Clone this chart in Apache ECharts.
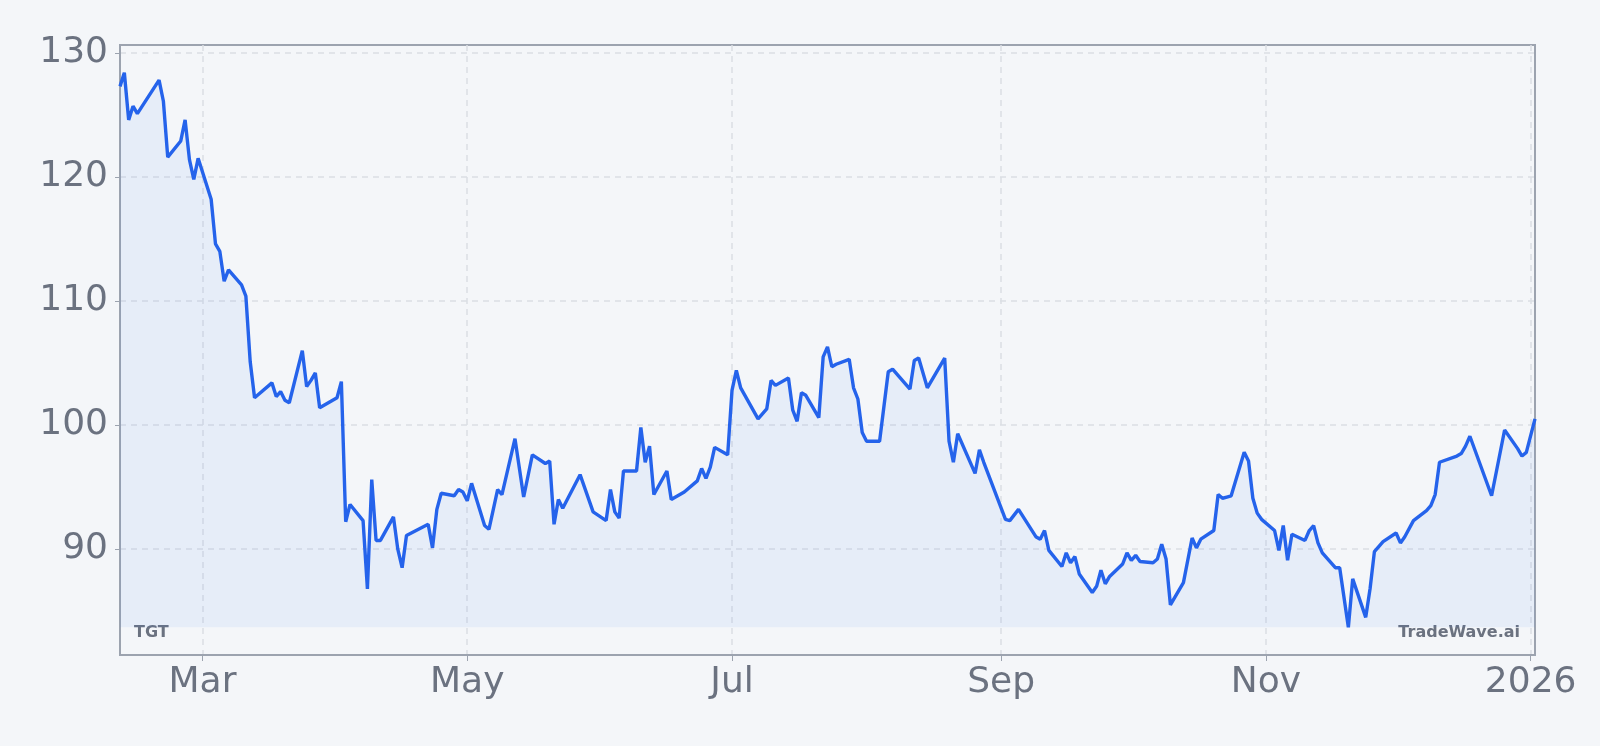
<!DOCTYPE html>
<html>
<head>
<meta charset="utf-8">
<script src="https://cdn.jsdelivr.net/npm/echarts@6/dist/echarts.min.js"></script>
<style>
html,body{margin:0;padding:0;background:#f4f6f9;}
#chart{width:1600px;height:746px;}
</style>
</head>
<body>
<div id="chart"></div>
<script>
const ticker = 'TGT';
const brand = 'TradeWave.ai';
const dates = [
'2025-02-10','2025-02-11','2025-02-12','2025-02-13','2025-02-14','2025-02-19','2025-02-20','2025-02-21','2025-02-24','2025-02-25','2025-02-26','2025-02-27','2025-02-28',
'2025-03-03','2025-03-04','2025-03-05','2025-03-06','2025-03-07','2025-03-10','2025-03-11','2025-03-12','2025-03-13','2025-03-17','2025-03-18','2025-03-19','2025-03-20','2025-03-21','2025-03-24','2025-03-25','2025-03-26','2025-03-27','2025-03-28','2025-03-31',
'2025-04-01','2025-04-02','2025-04-03','2025-04-04','2025-04-07','2025-04-08','2025-04-09','2025-04-10','2025-04-11','2025-04-14','2025-04-15','2025-04-16','2025-04-17','2025-04-22','2025-04-23','2025-04-24','2025-04-25','2025-04-28','2025-04-29','2025-04-30',
'2025-05-01','2025-05-02','2025-05-05','2025-05-06','2025-05-08','2025-05-09','2025-05-12','2025-05-14','2025-05-16','2025-05-19','2025-05-20','2025-05-21','2025-05-22','2025-05-23','2025-05-27','2025-05-30',
'2025-06-02','2025-06-03','2025-06-04','2025-06-05','2025-06-06','2025-06-09','2025-06-10','2025-06-11','2025-06-12','2025-06-13','2025-06-16','2025-06-17','2025-06-20','2025-06-23','2025-06-24','2025-06-25','2025-06-26','2025-06-27','2025-06-30',
'2025-07-01','2025-07-02','2025-07-03','2025-07-07','2025-07-09','2025-07-10','2025-07-11','2025-07-14','2025-07-15','2025-07-16','2025-07-17','2025-07-18','2025-07-21','2025-07-22','2025-07-23','2025-07-24','2025-07-25','2025-07-28','2025-07-29','2025-07-30','2025-07-31',
'2025-08-01','2025-08-04','2025-08-06','2025-08-07','2025-08-11','2025-08-12','2025-08-13','2025-08-15','2025-08-19','2025-08-20','2025-08-21','2025-08-22','2025-08-26','2025-08-27','2025-08-28',
'2025-09-02','2025-09-03','2025-09-05','2025-09-09','2025-09-10','2025-09-11','2025-09-12','2025-09-15','2025-09-16','2025-09-17','2025-09-18','2025-09-19','2025-09-22','2025-09-23','2025-09-24','2025-09-25','2025-09-26','2025-09-29','2025-09-30',
'2025-10-01','2025-10-02','2025-10-03','2025-10-06','2025-10-07','2025-10-08','2025-10-09','2025-10-10','2025-10-13','2025-10-15','2025-10-16','2025-10-17','2025-10-20','2025-10-21','2025-10-22','2025-10-23','2025-10-24','2025-10-27','2025-10-28','2025-10-29','2025-10-30','2025-10-31',
'2025-11-03','2025-11-04','2025-11-05','2025-11-06','2025-11-07','2025-11-10','2025-11-11','2025-11-12','2025-11-13','2025-11-14','2025-11-17','2025-11-18','2025-11-20','2025-11-21','2025-11-24','2025-11-25','2025-11-26','2025-11-28',
'2025-12-01','2025-12-02','2025-12-03','2025-12-05','2025-12-08','2025-12-09','2025-12-10','2025-12-11','2025-12-15','2025-12-16','2025-12-17','2025-12-18','2025-12-23','2025-12-26','2025-12-29','2025-12-30','2025-12-31',
'2026-01-02'
];
const prices = [
127.3,128.4,124.6,125.7,125.1,127.8,126.1,121.6,122.9,124.6,121.4,119.8,121.5,
118.2,114.6,114.0,111.6,112.5,111.3,110.4,105.1,102.2,103.4,102.3,102.7,102.0,101.8,106.0,103.1,103.6,104.2,101.4,102.0,
102.2,103.5,92.2,93.6,92.3,86.8,95.6,90.7,90.7,92.6,90.0,88.5,91.1,92.0,90.1,93.2,94.5,94.3,94.8,94.6,
93.9,95.3,91.9,91.6,94.8,94.4,98.9,94.2,97.6,96.9,97.1,92.0,94.0,93.3,96.0,93.0,
92.3,94.8,93.0,92.5,96.3,96.3,99.8,97.0,98.3,94.4,96.3,94.0,94.6,95.5,96.5,95.7,96.6,98.2,97.6,
102.8,104.4,103.0,100.5,101.3,103.6,103.2,103.8,101.2,100.3,102.6,102.4,100.6,105.5,106.3,104.7,104.9,105.3,103.0,102.1,99.4,
98.7,98.7,104.3,104.5,102.9,105.2,105.4,103.0,105.4,98.7,97.0,99.3,96.1,98.0,97.0,
92.4,92.3,93.2,91.0,90.8,91.5,89.9,88.6,89.7,88.9,89.4,88.0,86.5,87.0,88.3,87.2,87.8,88.8,89.7,
89.1,89.5,89.0,88.9,89.2,90.4,89.2,85.5,87.3,90.9,90.1,90.8,91.5,94.4,94.1,94.2,94.3,97.8,97.1,94.1,92.9,92.4,
91.5,89.9,91.9,89.1,91.2,90.7,91.5,91.9,90.5,89.7,88.5,88.5,83.7,87.6,84.5,86.8,89.8,90.6,
91.3,90.5,91.0,92.3,93.1,93.5,94.4,97.0,97.5,97.7,98.3,99.1,94.3,99.6,98.1,97.5,97.8,
100.5
];
const xTickDates = ['2025-03-01','2025-05-01','2025-07-01','2025-09-01','2025-11-01','2026-01-01'];
const yTicks = [90, 100, 110, 120, 130];
const monthNames = ['Jan','Feb','Mar','Apr','May','Jun','Jul','Aug','Sep','Oct','Nov','Dec'];

function toTs(s){ const p = s.split('-').map(Number); return Date.UTC(p[0], p[1]-1, p[2]); }
const xTicks = xTickDates.map(toTs);
const seriesData = dates.map((d,i)=>[toTs(d), prices[i]]);
const pMin = Math.min.apply(null, prices);
const pMax = Math.max.apply(null, prices);
const pad = (pMax - pMin) * 0.05;

const textColor = '#6b7280';
const axisColor = '#9ca3af';
const gridColor = '#dadee4';
const font = 'DejaVu Sans';

const chart = echarts.init(document.getElementById('chart'), null, {renderer:'canvas'});
chart.setOption({
  backgroundColor: '#f4f6f9',
  animation: false,
  textStyle: {fontFamily: font},
  grid: {left:120, right:65, top:45, bottom:91, show:true, borderColor:axisColor, borderWidth:2, backgroundColor:'transparent'},
  xAxis: {
    type:'value',
    min: seriesData[0][0],
    max: seriesData[seriesData.length-1][0],
    axisLine:{show:true, onZero:false, lineStyle:{color:axisColor, width:2}},
    axisTick:{show:true, length:6, lineStyle:{color:axisColor}, customValues: xTicks},
    splitLine:{show:true, lineStyle:{color:gridColor, type:[6,5], width:1.5}},
    axisLabel:{
      customValues: xTicks,
      color:textColor, fontSize:36, fontFamily:font, margin:10,
      formatter: function(v){ const d = new Date(v); return d.getUTCMonth()===0 ? String(d.getUTCFullYear()) : monthNames[d.getUTCMonth()]; }
    }
  },
  yAxis: {
    type:'value',
    min: pMin - pad,
    max: pMax + pad,
    axisLine:{show:true, lineStyle:{color:axisColor, width:2}},
    axisTick:{show:true, length:5, lineStyle:{color:axisColor}, customValues: yTicks},
    splitLine:{show:true, lineStyle:{color:gridColor, type:[6,5], width:1.5}},
    axisLabel:{customValues: yTicks, color:textColor, fontSize:36, fontFamily:font, margin:12}
  },
  series: [{
    type:'line',
    data: seriesData,
    showSymbol:false,
    symbol:'none',
    lineStyle:{color:'#2563eb', width:3.4},
    areaStyle:{color:'rgba(59,130,246,0.1)', origin: pMin},
    z: 3
  }],
  graphic: [
    {type:'text', left:134, top:625, style:{text:ticker, fill:textColor, font:'bold 16px "DejaVu Sans"'}},
    {type:'text', right:80, top:625, style:{text:brand, fill:textColor, font:'bold 16px "DejaVu Sans"'}}
  ]
});
</script>
</body>
</html>
